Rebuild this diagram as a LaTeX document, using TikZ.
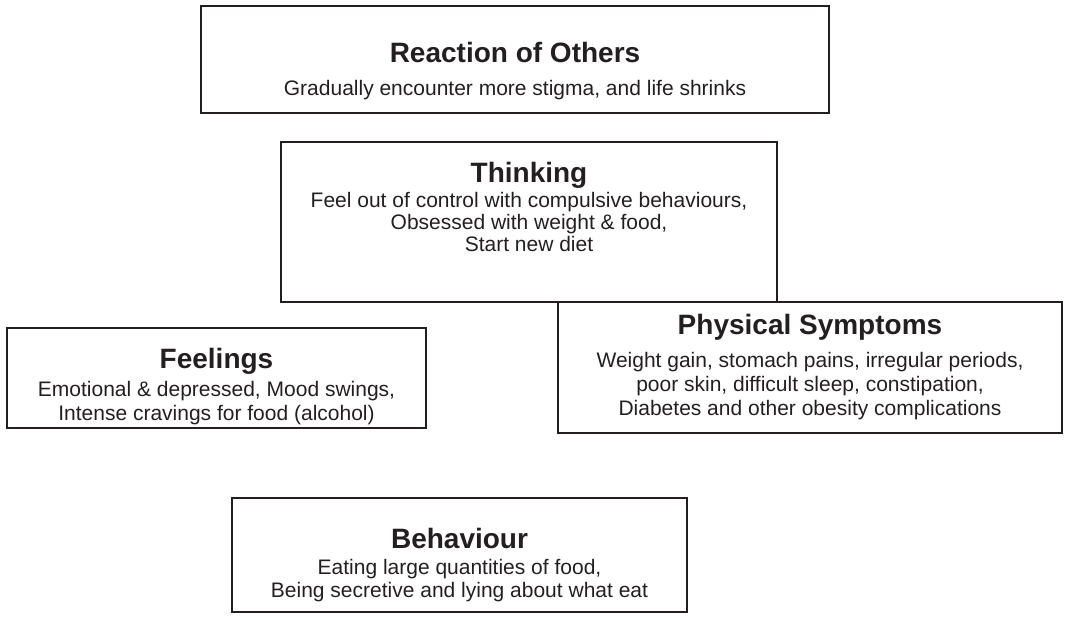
\documentclass[tikz,border=0pt]{standalone}
\usepackage{fontspec}
\setmainfont{Liberation Sans}
\definecolor{ink}{HTML}{231F20}
\begin{document}
\begin{tikzpicture}[x=1pt,y=-1pt,
  panel/.style={draw=ink, line width=1.9pt, rectangle, inner sep=0pt},
  heading/.style={anchor=base, inner sep=0pt, text=ink,
    font=\fontsize{28}{32}\selectfont\bfseries},
  body/.style={anchor=north, align=center, inner sep=0pt, text=ink,
    font=\fontsize{21}{24}\selectfont}]
\useasboundingbox (0,0) rectangle (1066,624);
% boxes
\node[panel, minimum width=628, minimum height=107] (reaction) at (515,59.5) {};
\node[panel, minimum width=496, minimum height=160] (thinking) at (529,222) {};
\node[panel, minimum width=419, minimum height=100] (feelings) at (216.5,378) {};
\node[panel, minimum width=504, minimum height=131] (physical) at (810,367.5) {};
\node[panel, minimum width=455, minimum height=114] (behaviour) at (459.5,555) {};
% reaction of others
\node[heading] (reactionTitle) at (515,62) {Reaction of Others};
\node[body] (reactionBody) at (515,80) {Gradually encounter more stigma, and life shrinks};
% thinking
\node[heading] (thinkingTitle) at (529,182) {Thinking};
\node[body, font=\fontsize{21}{22}\selectfont] (thinkingBody) at (529,192)
  {Feel out of control with compulsive behaviours,\\Obsessed with weight \& food,\\Start new diet};
% feelings
\node[heading] (feelingsTitle) at (216.5,368) {Feelings};
\node[body] (feelingsBody) at (216.5,381)
  {Emotional \& depressed, Mood swings,\\Intense cravings for food (alcohol)};
% physical symptoms
\node[heading] (physicalTitle) at (810,334) {Physical Symptoms};
\node[body] (physicalBody) at (810,352)
  {Weight gain, stomach pains, irregular periods,\\poor skin, difficult sleep, constipation,\\Diabetes and other obesity complications};
% behaviour
\node[heading] (behaviourTitle) at (459.5,548) {Behaviour};
\node[body, font=\fontsize{21}{23}\selectfont] (behaviourBody) at (459.5,559)
  {Eating large quantities of food,\\Being secretive and lying about what eat};
\end{tikzpicture}
\end{document}
